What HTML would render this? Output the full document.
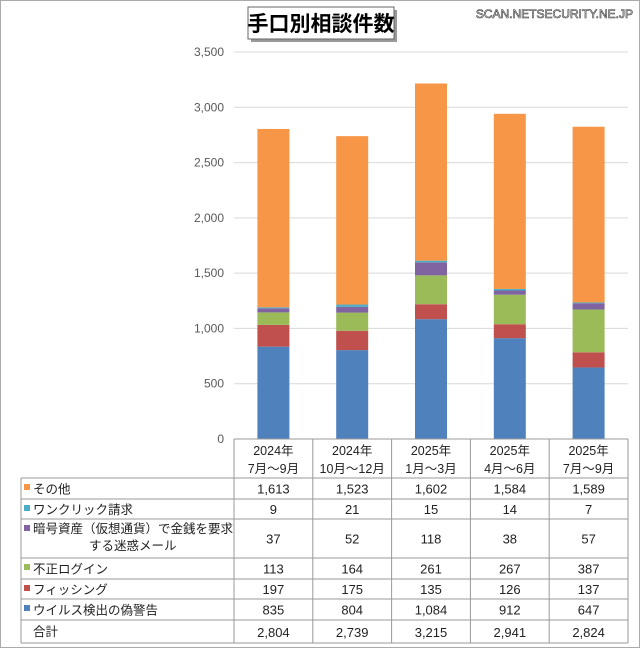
<!DOCTYPE html>
<html><head><meta charset="utf-8"><style>
body{margin:0;background:#fff;font-family:"Liberation Sans","Noto Sans CJK JP",sans-serif;}
#wrap{position:relative;width:638px;height:646px;border:1px solid #aaa;overflow:hidden}
svg text{font-family:"Liberation Sans","Noto Sans CJK JP",sans-serif}
</style></head><body>
<div id="wrap">
<svg id="svg" width="640" height="648">
<rect x="250" y="9" width="146" height="32" fill="#999"/>
<rect x="247" y="6" width="146" height="32" fill="#fff" stroke="#666"/>
<text x="320" y="30" font-size="21" font-weight="bold" text-anchor="middle">手口別相談件数</text>
<text x="632" y="17" font-size="12" text-anchor="end" fill="#fff" stroke="#333" stroke-width="0.6">SCAN.NETSECURITY.NE.JP</text>
<g id="g"></g>
</svg>
</div>
<script>
const categories=[["2024年","7月～9月"],["2024年","10月～12月"],["2025年","1月～3月"],["2025年","4月～6月"],["2025年","7月～9月"]];
const virus=[835,804,1084,912,647];
const phishing=[197,175,135,126,137];
const login=[113,164,261,267,387];
const crypto=[37,52,118,38,57];
const oneclick=[9,21,15,14,7];
const other=[1613,1523,1602,1584,1589];
const totals=[2804,2739,3215,2941,2824];
const yTicks=[0,500,1000,1500,2000,2500,3000,3500];
const seriesNames=["ウイルス検出の偽警告","フィッシング","不正ログイン","暗号資産（仮想通貨）で金銭を要求する迷惑メール","ワンクリック請求","その他"];
const series=[virus,phishing,login,crypto,oneclick,other];
const colors=["#4f81bd","#c0504d","#9bbb59","#8064a2","#4bacc6","#f79646"];
const NS="http://www.w3.org/2000/svg";
const g=document.getElementById('g');
function mk(t,a,txt){const e=document.createElementNS(NS,t);for(const k in a)e.setAttribute(k,a[k]);if(txt!=null)e.textContent=txt;g.appendChild(e);return e;}
const y0=438,yTop=51,yMax=3500;
const Y=v=>y0-(v/yMax)*(y0-yTop);
const colL=233,colW=78.8;
const X=i=>colL+colW*i+colW/2;
const fmt=v=>v.toLocaleString('en-US');
yTicks.forEach(t=>{
 if(t>0){const l=mk('line',{x1:233,x2:627,y1:Y(t),y2:Y(t),stroke:'#d9d9d9'});
 
 }
 const tx=mk('text',{x:223,y:Y(t)+4,'font-size':12,fill:'#595959','text-anchor':'end'},fmt(t));
 
 
});
categories.forEach((c,i)=>{
 let acc=0;
 series.forEach((s,k)=>{
  const r=mk('rect',{x:X(i)-16,width:32,y:Y(acc+s[i]),height:Y(acc)-Y(acc+s[i]),fill:colors[k]});
  
  
  acc+=s[i];
 });
});
const rows=[477,498,518,557,578,598,619,642];
const tcol='#999';
function ln(x1,y1,x2,y2){const l=mk('line',{x1,y1,x2,y2,stroke:tcol});
 
 }
for(let i=0;i<=5;i++)ln(colL+colW*i,438,colL+colW*i,642);
ln(20,477,20,642);
ln(colL,438,627,438);
rows.forEach(y=>ln(20,y,627,y));
categories.forEach((c,i)=>{
 c.forEach((s,j)=>{const t=mk('text',{x:X(i),y:454+j*18,'font-size':12.5,'text-anchor':'middle',fill:'#222'},s);
 
 });
});
const order=[5,4,3,2,1,0];
order.forEach((k,r)=>{
 const top=rows[r],bot=rows[r+1],mid=(top+bot)/2;
 const sq=mk('rect',{x:23,y:top+6,width:6,height:6,fill:colors[k]});
 
 
 if(k===3){
  const a=mk('text',{x:32,y:top+14,'font-size':12.5,fill:'#222'},'暗号資産（仮想通貨）で金銭を要求');
  
  
  const b=mk('text',{x:88,y:top+31,'font-size':12.5,fill:'#222'},'する迷惑メール');
  
  
 } else {
  const a=mk('text',{x:32,y:mid+5,'font-size':12.5,fill:'#222'},seriesNames[k]);
  
  
 }
 series[k].forEach((v,i)=>{const t=mk('text',{x:X(i),y:mid+5,'font-size':13,'text-anchor':'middle',fill:'#222'},fmt(v));
  
  });
});
const tl=mk('text',{x:32,y:635,'font-size':12.5,fill:'#222'},'合計');


totals.forEach((v,i)=>{const t=mk('text',{x:X(i),y:636,'font-size':13,'text-anchor':'middle',fill:'#222'},fmt(v));
 
 });
</script>
</body></html>
